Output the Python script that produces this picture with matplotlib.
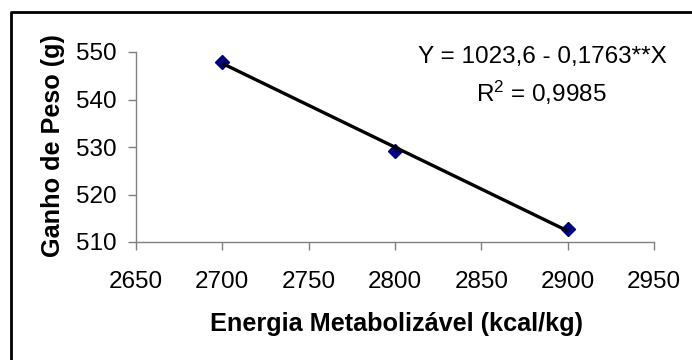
import matplotlib.pyplot as plt
import numpy as np
from matplotlib.lines import Line2D

plt.rcParams["font.family"] = ["Liberation Sans", "DejaVu Sans"]
plt.rcParams["mathtext.fontset"] = "custom"
plt.rcParams["mathtext.rm"] = "Liberation Sans"

# Data
energia = [2700, 2800, 2900]
ganho = [548.0, 529.1, 512.8]
intercept = 1023.6
slope = -0.1763
x_ticks = [2650, 2700, 2750, 2800, 2850, 2900, 2950]
y_ticks = [510, 520, 530, 540, 550]

W, H = 692, 360
fig = plt.figure(figsize=(W / 100, H / 100), dpi=100)
ax = fig.add_axes([136 / W, 1 - 242 / H, (654 - 136) / W, (242 - 52) / H])

x = np.array(energia)
ax.plot(x, intercept + slope * x, color="black", linewidth=2.4, zorder=3, solid_capstyle="butt")
ax.plot(energia, ganho, linestyle="none", marker="D", markersize=7,
        color="#000080", zorder=2, clip_on=False)

ax.set_xlim(2650, 2950)
ax.set_ylim(510, 550)
ax.set_xticks(x_ticks)
ax.set_yticks(y_ticks)
ax.tick_params(axis="both", direction="out", length=6, width=1, color="#808080",
               labelsize=17.5, labelcolor="black")
ax.tick_params(axis="x", pad=15)
ax.tick_params(axis="y", pad=8)
for side in ("top", "right"):
    ax.spines[side].set_visible(False)
for side in ("left", "bottom"):
    ax.spines[side].set_color("#808080")
    ax.spines[side].set_linewidth(1)

fig.text(396 / W, 1 - 324 / H, "Energia Metabolizável (kcal/kg)", ha="center", va="center",
         fontsize=18.2, fontweight="bold")
fig.text(53 / W, 1 - 146 / H, "Ganho de Peso (g)", ha="center", va="center",
         rotation=90, fontsize=18.2, fontweight="bold")

fig.text(542 / W, 1 - 57 / H, "Y = 1023,6 - 0,1763**X", ha="center", va="center", fontsize=17.5)
fig.text(541 / W, 1 - 93 / H, r"$\mathregular{R^2}$ = 0,9985", ha="center", va="center", fontsize=17.5)

# outer chart border (clipped on right and bottom)
fig.add_artist(Line2D([10.5 / W, 10.5 / W, 1.0], [0.0, 1 - 12 / H, 1 - 12 / H],
                      transform=fig.transFigure, color="black", linewidth=2))

fig.savefig("out.png", dpi=100)
